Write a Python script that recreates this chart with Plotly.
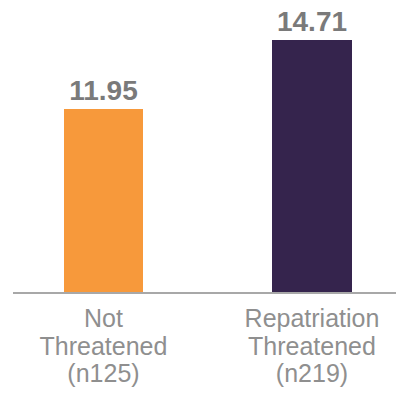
import plotly.graph_objects as go

categories = ["Not<br>Threatened<br>(n125)", "Repatriation<br>Threatened<br>(n219)"]
values = [11.95, 14.71]
value_labels = ["11.95", "14.71"]
colors = ["#F7993B", "#35244D"]

ticktext = ['<span style="font-size:25px">' + c.replace("<br>", '</span><br><span style="font-size:25px">') + '</span>' for c in categories]

fig = go.Figure(go.Bar(
    x=categories,
    y=values,
    marker=dict(color=colors, line=dict(width=0)),
    width=0.38,
    text=value_labels,
    textposition="outside",
    textfont=dict(family="Liberation Sans, Arial", size=28, color="#7a7a7a", weight="bold"),
    cliponaxis=False,
))

fig.update_layout(
    width=396, height=394,
    margin=dict(l=13, r=0, t=0, b=102),
    paper_bgcolor="white", plot_bgcolor="white",
    showlegend=False,
    bargap=0,
)
fig.update_xaxes(
    range=[-0.434, 1.403],
    tickvals=categories,
    ticktext=ticktext,
    tickfont=dict(family="Liberation Sans, Arial", size=21.5, color="#8f8f8f"),
    ticklabelstandoff=7,
    showline=True, linecolor="#a8a8a8", linewidth=1.5,
    ticks="", showgrid=False, zeroline=False,
)
fig.update_yaxes(
    range=[4.63, 16.31],
    visible=False, showgrid=False, zeroline=False,
)

fig.write_html("out.html")
